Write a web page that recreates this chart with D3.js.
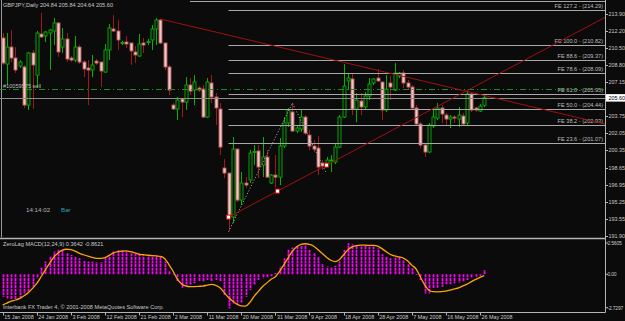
<!DOCTYPE html>
<html>
<head>
<meta charset="utf-8">
<script src="https://cdn.jsdelivr.net/npm/d3@7"></script>
<style>
  html, body { margin:0; padding:0; background:#0b0b0b; }
  svg text { font-family: "Liberation Sans", Arial, sans-serif; }
</style>
</head>
<body>
<script>
// GBPJPY daily, 15 Jan 2008 .. 27 May 2008 (one entry per bar)
var opens = [211.52,208.93,210.62,209.53,208.74,208.64,204.86,210.03,207.84,211.91,
	211.72,212.01,212.21,213.01,210.62,211.42,209.53,209.33,210.62,209.13,
	208.54,208.34,209.23,209.13,208.14,210.33,212.41,212.21,210.97,211.12,
	211.02,210.13,209.73,211.02,211.07,211.32,212.41,213.30,211.02,208.64,
	204.86,204.47,205.46,205.16,206.85,206.35,206.55,206.45,203.67,207.05,
	205.66,204.47,198.61,198.11,193.74,200.49,195.43,197.12,197.42,200.15,
	200.30,198.91,199.70,197.12,197.91,197.71,200.79,203.08,204.17,202.28,
	202.48,203.67,201.88,200.79,200.59,199.10,198.91,199.30,199.20,200.69,
	203.67,207.25,207.45,204.47,205.26,204.67,205.76,207.05,207.54,207.15,
	204.37,207.05,206.35,207.74,208.04,207.05,206.65,204.57,202.98,200.89,
	200.20,202.78,203.57,204.57,203.87,203.47,203.67,203.47,203.77,203.08,
	205.96,204.57,204.27,204.84];
var highs = [212.01,212.01,212.31,210.62,209.33,208.84,210.13,210.33,212.21,214.00,
	212.21,212.41,213.50,213.11,212.51,212.01,209.73,211.72,210.82,209.33,
	209.33,209.83,209.43,209.13,210.92,212.91,213.80,213.30,211.22,211.72,
	211.02,210.72,211.91,211.52,211.42,212.81,213.50,213.40,211.02,208.84,
	205.06,205.66,205.56,207.64,207.54,207.84,206.75,206.85,207.54,207.84,
	206.06,205.06,199.50,198.11,201.69,200.59,198.21,197.71,200.40,200.89,
	200.89,201.69,200.40,198.01,199.90,201.59,203.67,204.57,205.06,202.78,
	204.37,203.87,202.38,201.39,201.78,199.40,199.70,199.90,201.09,203.87,
	208.93,208.04,208.04,206.06,206.06,206.15,207.54,207.54,208.44,207.15,
	207.84,207.74,209.03,208.14,208.34,207.35,206.85,204.86,203.17,201.09,
	203.08,204.57,205.06,204.86,204.07,203.87,203.87,204.67,204.07,206.35,
	206.06,204.67,204.96,205.84];
var lows = [208.84,206.85,209.13,208.04,208.54,204.57,204.37,204.47,206.55,211.52,
	211.12,208.34,210.82,209.63,210.03,209.13,209.13,209.13,208.93,207.64,
	204.86,207.64,208.84,206.65,208.04,209.33,212.11,210.33,210.82,210.52,
	208.84,209.03,209.63,210.03,210.82,210.33,210.82,210.92,208.34,205.86,
	204.37,203.37,203.67,204.37,205.86,204.86,206.15,203.57,203.57,205.06,
	202.88,199.90,197.62,192.35,193.15,195.23,194.93,196.62,197.12,198.91,
	197.62,197.71,197.62,197.02,196.72,196.92,200.59,202.68,202.18,202.08,
	202.18,201.88,200.40,200.20,197.91,198.41,198.71,198.21,199.00,200.59,
	203.57,206.35,203.87,203.17,203.87,204.37,205.36,206.85,207.15,203.37,
	204.17,205.36,206.25,207.54,206.55,206.45,204.37,202.78,200.59,199.70,
	200.10,202.58,203.37,203.08,202.88,202.58,203.08,202.68,202.88,202.88,
	204.17,204.17,204.17,204.64];
var closes = [209.03,210.62,209.53,208.34,209.13,204.86,210.03,208.84,212.01,211.62,
	212.11,212.31,213.01,210.13,211.42,209.43,209.33,210.62,209.13,208.44,
	208.34,208.84,209.03,208.24,210.33,212.51,212.21,211.32,211.07,210.92,
	210.23,209.83,210.92,210.82,211.17,212.41,213.30,211.02,208.64,206.35,
	204.47,205.36,205.16,206.85,206.25,207.15,206.35,203.67,207.15,205.66,
	204.57,200.69,198.11,193.74,200.49,195.43,197.12,196.92,200.10,200.25,
	198.71,199.70,197.71,197.91,197.71,200.79,203.08,204.37,202.28,202.58,
	203.67,202.08,200.79,200.49,198.71,198.81,199.40,199.40,200.69,203.67,
	206.75,207.54,204.47,205.36,204.67,205.76,206.95,207.45,207.25,204.37,
	206.45,206.65,208.04,208.04,207.05,206.65,204.57,202.98,200.89,200.20,
	202.88,203.67,204.57,203.97,203.47,203.67,203.57,203.87,202.98,205.96,
	204.37,204.37,204.76,205.60];

// ZeroLag MACD subwindow
var macdHist = [-1.83,-1.97,-2.02,-2.02,-1.91,-1.56,-1.42,-1.01,-0.33,0.55,
	1.04,1.50,1.86,1.99,2.08,1.72,1.58,1.45,1.31,1.09,
	1.04,1.04,0.98,0.98,1.31,1.58,1.86,1.97,1.97,1.86,
	1.72,1.64,1.58,1.53,1.53,1.58,1.53,1.45,1.04,0.27,
	-0.05,-0.55,-1.09,-0.93,-0.87,-0.74,-0.55,-0.60,-0.46,-0.55,
	-0.46,-0.60,-1.69,-2.79,-2.38,-2.51,-2.30,-1.83,-1.28,-0.87,
	-0.46,-0.33,-0.30,-0.15,0.10,0.63,1.31,2.08,2.19,2.35,
	2.35,2.40,1.99,1.75,1.40,0.82,0.63,0.55,0.71,1.04,
	1.99,2.54,2.46,2.35,2.27,2.35,2.27,2.27,2.13,1.64,
	1.45,1.31,1.37,1.45,1.17,0.82,0.49,-0.05,-0.46,-1.56,
	-1.56,-1.15,-1.09,-1.01,-0.82,-0.82,-0.74,-0.66,-0.60,-0.46,
	-0.27,-0.19,-0.11,0.36];
var macdSignal = [-2.5,-2.35,-2.2,-2.1,-1.97,-1.75,-1.5,-1.15,-0.75,-0.2,
	0.35,0.9,1.4,1.75,1.98,2.05,2.02,1.9,1.72,1.6,
	1.48,1.38,1.31,1.3,1.36,1.55,1.75,1.85,1.9,1.91,
	1.85,1.75,1.64,1.6,1.56,1.53,1.5,1.47,1.3,0.8,
	0.25,-0.4,-0.8,-0.96,-1.0,-1.0,-0.98,-0.96,-0.88,-0.82,
	-0.9,-1.1,-1.5,-1.9,-2.2,-2.45,-2.58,-2.6,-2.3,-1.8,
	-1.4,-1.0,-0.7,-0.4,-0.2,0.25,0.8,1.35,1.9,2.25,
	2.45,2.5,2.45,2.3,2.0,1.7,1.4,1.15,1.04,1.2,
	1.6,2.0,2.25,2.35,2.38,2.38,2.37,2.36,2.3,2.1,
	1.85,1.62,1.5,1.42,1.33,1.1,0.75,0.45,-0.2,-0.85,
	-1.3,-1.42,-1.43,-1.42,-1.38,-1.3,-1.2,-1.1,-0.95,-0.8,
	-0.6,-0.42,-0.25,-0.11];

// axes
var priceTicks = [213.90,212.20,210.50,208.80,207.15,203.75,202.05,200.35,198.65,196.95,195.25,193.55,191.90];
var macdTicks = [2.5605, 0.00, -2.7297];
var macdTickLabels = ["2.5605", "0.00", "-2.7297"];
var dateTickBars = [0,8,16,24,32,40,48,56,64,72,80,88,96,104,112];
var dateTickLabels = ["15 Jan 2008","24 Jan 2008","3 Feb 2008","12 Feb 2008","21 Feb 2008","2 Mar 2008",
	"11 Mar 2008","20 Mar 2008","31 Mar 2008","9 Apr 2008","18 Apr 2008","28 Apr 2008",
	"7 May 2008","16 May 2008","26 May 2008"];

// chart objects
var feRatios = ["127.2","100.0","88.6","78.6","61.8","50.0","38.2","23.6"];
var feValues = [214.29,210.82,209.37,208.09,205.95,204.44,202.93,201.07];
var fePoints = [[53,192.30],[68,205.06],[76,198.06]];   // A, B, C (bar, price)
var trendDown = [[37,213.40],[113,205.81]];
var trendUp = [[53,193.74],[76,198.90]];
var bidPrice = 205.60;
var orderPrice = 206.45;

var W = 625, H = 321;
var axisX = 605.5;
var mainBottom = 237.5, subTop = 239.5, subBottom = 312.5;

var svg = d3.select("body").append("svg")
	.attr("width", W).attr("height", H)
	.style("display","block")
	.style("background","#0b0b0b");

var x = d3.scaleLinear().domain([0, 113]).range([2.7, 484.2]);
var y = d3.scaleLinear().domain([193.55, 213.90]).range([219, 14]);
var ym = d3.scaleLinear().domain([-2.7297, 2.5605]).range([307.7, 243]);

var defs = svg.append("defs");
defs.append("clipPath").attr("id","clipMain").append("rect")
	.attr("x",0).attr("y",0).attr("width",axisX).attr("height",mainBottom);
defs.append("clipPath").attr("id","clipSub").append("rect")
	.attr("x",0).attr("y",subTop).attr("width",axisX).attr("height",subBottom-subTop);

var main = svg.append("g").attr("clip-path","url(#clipMain)");
var sub = svg.append("g").attr("clip-path","url(#clipSub)");

var lastBar = x.invert(axisX);
function extend(p, bar){
	return p[0][1] + (p[1][1]-p[0][1])*(bar-p[0][0])/(p[1][0]-p[0][0]);
}

//. left separator
main.append("line").attr("x1",1.5).attr("x2",1.5).attr("y1",0).attr("y2",mainBottom)
	.attr("stroke","#9a9a9a").attr("stroke-width",1);

//. candles
var idx = d3.range(opens.length);
var candle = main.selectAll(".candle").data(idx).enter().append("g").attr("class","candle");
candle.append("line")
	.attr("x1", function(i){ return Math.round(x(i))+0.5; })
	.attr("x2", function(i){ return Math.round(x(i))+0.5; })
	.attr("y1", function(i){ return y(highs[i]); })
	.attr("y2", function(i){ return y(lows[i]); })
	.attr("stroke", function(i){ return closes[i] >= opens[i] ? "#00b400" : "#a01818"; })
	.attr("stroke-width",1);
candle.append("rect")
	.attr("x", function(i){ return Math.round(x(i))-1; })
	.attr("width", 3)
	.attr("y", function(i){ return y(Math.max(opens[i], closes[i])); })
	.attr("height", function(i){ return Math.max(1, Math.abs(y(opens[i]) - y(closes[i]))); })
	.attr("fill", function(i){ return closes[i] >= opens[i] ? "#0b0b0b" : "#f2c6c6"; })
	.attr("stroke", function(i){ return closes[i] >= opens[i] ? "#00b400" : "#b85a5a"; })
	.attr("stroke-width",0.9);

//. top line
main.append("line").attr("x1",190).attr("x2",axisX).attr("y1",1.5).attr("y2",1.5)
	.attr("stroke","#a8a8a8").attr("stroke-width",1.2);

//. fibonacci expansion levels
var feStart = x(fePoints[0][0]);
main.selectAll(".fe").data(feValues).enter().append("line")
	.attr("class","fe")
	.attr("x1", feStart).attr("x2", axisX)
	.attr("y1", function(d){ return Math.round(y(d))+0.5; })
	.attr("y2", function(d){ return Math.round(y(d))+0.5; })
	.attr("stroke","#a8a8a8").attr("stroke-width",1.2);
main.selectAll(".fe-label").data(feValues).enter().append("text")
	.attr("class","fe-label")
	.attr("x", 603).attr("y", function(d){ return y(d) - 2; })
	.attr("text-anchor","end")
	.attr("font-size","5.6px").attr("fill","#bdbdbd")
	.text(function(d,i){ return "FE " + feRatios[i] + " - (" + d.toFixed(2) + ")"; });
main.append("path")
	.datum(fePoints)
	.attr("d", d3.line().x(function(d){ return x(d[0]); }).y(function(d){ return y(d[1]); }))
	.attr("fill","none").attr("stroke","#b0b0b0").attr("stroke-width",1)
	.attr("stroke-dasharray","1,2");

//. bid line and order line
main.append("line").attr("x1",0).attr("x2",axisX)
	.attr("y1", Math.round(y(bidPrice))+0.5).attr("y2", Math.round(y(bidPrice))+0.5)
	.attr("stroke","#8c8c8c").attr("stroke-width",1);
main.append("line").attr("x1",0).attr("x2",axisX)
	.attr("y1", Math.round(y(orderPrice))+0.5).attr("y2", Math.round(y(orderPrice))+0.5)
	.attr("stroke","#1c8c1c").attr("stroke-width",1)
	.attr("stroke-dasharray","6,3,1,3");
main.append("text").attr("x",3).attr("y", y(orderPrice)-1.5)
	.attr("font-size","5.6px").attr("fill","#bdbdbd").text("#10059575 sell");

//. trend lines
main.append("line")
	.attr("x1", x(trendDown[0][0])).attr("y1", y(trendDown[0][1]))
	.attr("x2", axisX).attr("y2", y(extend(trendDown, lastBar)))
	.attr("stroke","#a01010").attr("stroke-width",1);
main.append("line")
	.attr("x1", x(trendUp[0][0])).attr("y1", y(trendUp[0][1]))
	.attr("x2", axisX).attr("y2", y(extend(trendUp, lastBar)))
	.attr("stroke","#a01010").attr("stroke-width",1);
var midBar = (trendUp[0][0] + trendUp[1][0]) / 2;
var markers = [trendUp[0], [midBar, extend(trendUp, midBar)], trendUp[1]];
main.selectAll(".marker").data(markers).enter().append("rect")
	.attr("class","marker")
	.attr("x", function(d){ return x(d[0]) - 2; })
	.attr("y", function(d){ return y(d[1]) - 2; })
	.attr("width",4).attr("height",4)
	.attr("fill","#ffffff").attr("stroke","#d01010").attr("stroke-width",1);

//. texts on main chart
svg.append("text").attr("x",3).attr("y",7)
	.attr("font-size","5.6px").attr("fill","#c8c8c8")
	.text("GBPJPY,Daily  204.84 205.84 204.64 205.60");
svg.append("text").attr("x",26).attr("y",212)
	.attr("font-size","6.2px").attr("fill","#b4b4b4").text("14:14:02");
svg.append("text").attr("x",61).attr("y",212)
	.attr("font-size","6.2px").attr("fill","#2aa6b8").text("Bar");

//. MACD subwindow
sub.selectAll(".hist").data(idx).enter().append("line")
	.attr("class","hist")
	.attr("x1", function(i){ return Math.round(x(i))+0.5; })
	.attr("x2", function(i){ return Math.round(x(i))+0.5; })
	.attr("y1", ym(0))
	.attr("y2", function(i){ return ym(macdHist[i]); })
	.attr("stroke","#ff00ff").attr("stroke-width",1.8)
	.attr("stroke-dasharray","3,0.6");
sub.append("path")
	.datum(macdSignal)
	.attr("d", d3.line().curve(d3.curveMonotoneX)
		.x(function(d,i){ return x(i); })
		.y(function(d){ return ym(d); }))
	.attr("fill","none").attr("stroke","#ffa500").attr("stroke-width",1.3);
svg.append("text").attr("x",3).attr("y",246)
	.attr("font-size","5.6px").attr("fill","#c8c8c8")
	.text("ZeroLag MACD(12,24,9) 0.3642 -0.8621");
svg.append("text").attr("x",3).attr("y",309)
	.attr("font-size","5.6px").attr("fill","#c8c8c8")
	.text("Interbank FX Trader 4, \u00a9 2001-2008 MetaQuotes Software Corp.");

//. frame
svg.append("line").attr("x1",0).attr("x2",axisX).attr("y1",238.5).attr("y2",238.5)
	.attr("stroke","#b4b4b4").attr("stroke-width",1.6);
svg.append("line").attr("x1",0).attr("x2",axisX).attr("y1",subBottom).attr("y2",subBottom)
	.attr("stroke","#b4b4b4").attr("stroke-width",1);
svg.append("line").attr("x1",axisX).attr("x2",axisX).attr("y1",0).attr("y2",subBottom)
	.attr("stroke","#b4b4b4").attr("stroke-width",1);

//. price axis
var pAxis = svg.append("g");
pAxis.selectAll(".pt").data(priceTicks).enter().append("line")
	.attr("x1",axisX).attr("x2",axisX+2.5)
	.attr("y1", function(d){ return Math.round(y(d))+0.5; })
	.attr("y2", function(d){ return Math.round(y(d))+0.5; })
	.attr("stroke","#b4b4b4");
pAxis.selectAll(".pl").data(priceTicks).enter().append("text")
	.attr("x",608.5).attr("y", function(d){ return y(d)+2; })
	.attr("font-size","5.4px").attr("fill","#c8c8c8")
	.text(function(d){ return d.toFixed(2); });
svg.append("rect").attr("x",606).attr("y", y(bidPrice)-3.5).attr("width",19).attr("height",7.5)
	.attr("fill","#ffffff");
svg.append("text").attr("x",608.5).attr("y", y(bidPrice)+2)
	.attr("font-size","5.4px").attr("fill","#000000").text(bidPrice.toFixed(2));

//. macd axis
svg.selectAll(".mt").data(macdTicks).enter().append("line")
	.attr("x1",axisX).attr("x2",axisX+2.5)
	.attr("y1", function(d){ return ym(d); }).attr("y2", function(d){ return ym(d); })
	.attr("stroke","#b4b4b4");
svg.selectAll(".ml").data(macdTicks).enter().append("text")
	.attr("x",607.5).attr("y", function(d){ return ym(d)+2; })
	.attr("font-size","5px").attr("fill","#c8c8c8")
	.attr("letter-spacing","-0.2px")
	.text(function(d,i){ return macdTickLabels[i]; });

//. time axis
svg.selectAll(".dt").data(dateTickBars).enter().append("line")
	.attr("x1", function(d){ return Math.round(x(d))+0.5; })
	.attr("x2", function(d){ return Math.round(x(d))+0.5; })
	.attr("y1", subBottom).attr("y2", subBottom+3)
	.attr("stroke","#b4b4b4");
svg.selectAll(".dl").data(dateTickBars).enter().append("text")
	.attr("x", function(d){ return x(d)+1.5; })
	.attr("y", 319)
	.attr("font-size","5.4px").attr("fill","#c8c8c8")
	.text(function(d,i){ return dateTickLabels[i]; });
</script>
</body>
</html>
